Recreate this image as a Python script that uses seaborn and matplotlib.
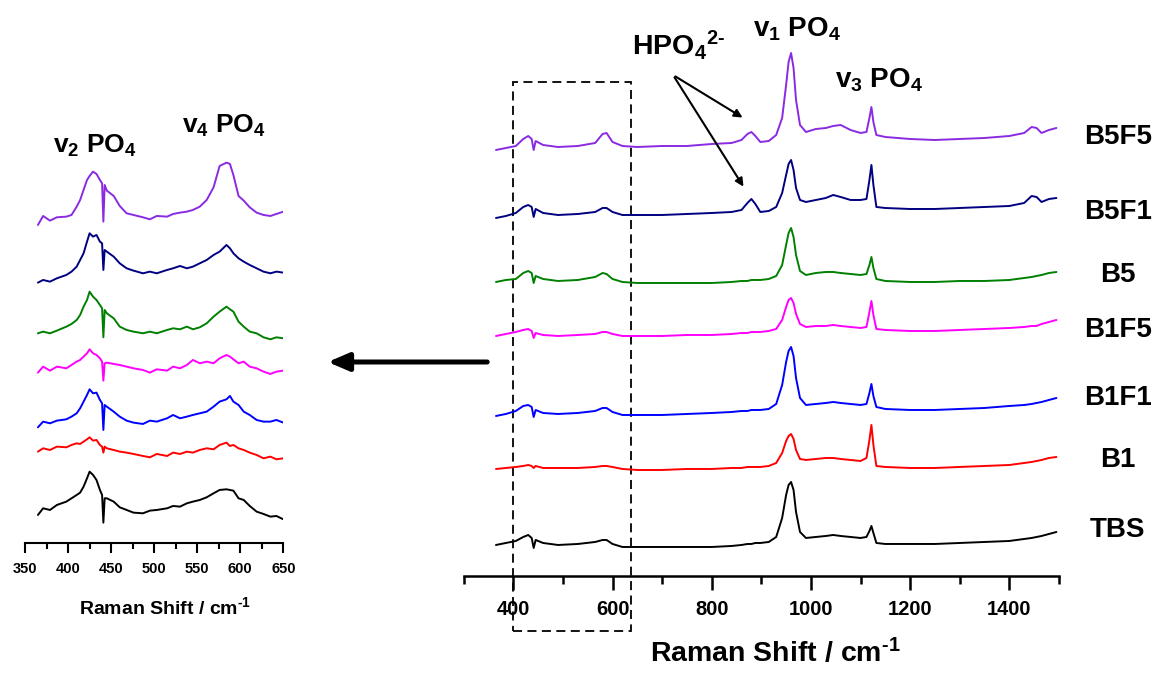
import pandas as pd
import matplotlib
matplotlib.use('Agg')
import matplotlib.pyplot as plt
from matplotlib.patches import Rectangle, FancyArrowPatch
import seaborn as sns

# Raman spectra, offset-stacked (a.u.)
samples = ['B5F5', 'B5F1', 'B5', 'B1F5', 'B1F1', 'B1', 'TBS']
colors = ['#8a2be2', '#000080', '#008000', '#ff00ff', '#0000ff', '#ff0000', '#000000']

# zoomed region 350-650 cm-1
zoom_shift = [365, 371, 379, 387, 398, 404, 410, 414, 418, 422, 425, 429, 433, 437, 439.5,
              441, 442.5, 445, 453, 460, 468, 476, 487, 495, 503, 515, 522, 530, 538, 545,
              553, 561, 569, 576, 584, 588, 592, 598, 604, 611, 619, 627, 635, 642, 650]
zoom_b5f5 = [925, 952, 938, 948, 950, 955, 980, 1000, 1030, 1060, 1072, 1085, 1078, 1060, 1050,
             935, 1045, 1028, 1012, 982, 960, 955, 948, 942, 952, 950, 958, 962, 965, 970,
             980, 1000, 1038, 1102, 1112, 1108, 1075, 1012, 998, 978, 962, 955, 952, 958, 965]
zoom_b5f1 = [752, 760, 755, 765, 775, 785, 800, 820, 840, 875, 900, 890, 895, 875, 870,
             790, 850, 845, 830, 810, 795, 788, 780, 785, 780, 790, 795, 802, 795, 800,
             810, 820, 835, 845, 865, 855, 840, 825, 815, 805, 795, 785, 780, 785, 782]
zoom_b5 = [600, 605, 600, 608, 620, 628, 640, 655, 680, 700, 725, 710, 700, 685, 675,
           588, 670, 660, 645, 620, 610, 605, 600, 605, 600, 610, 615, 612, 620, 612,
           618, 630, 650, 665, 680, 672, 665, 635, 620, 605, 600, 588, 582, 588, 585]
zoom_b1f5 = [482, 500, 488, 500, 495, 505, 515, 520, 530, 540, 552, 540, 535, 525, 515,
             458, 510, 512, 508, 505, 500, 495, 490, 482, 492, 488, 500, 495, 505, 520,
             510, 515, 510, 525, 535, 530, 522, 510, 515, 500, 495, 485, 478, 485, 488]
zoom_b1f1 = [318, 335, 330, 338, 342, 350, 360, 375, 395, 415, 432, 420, 422, 400, 390,
             310, 385, 380, 365, 350, 338, 332, 328, 338, 335, 345, 355, 345, 350, 355,
             360, 365, 380, 395, 402, 412, 395, 385, 365, 355, 340, 335, 335, 340, 332]
zoom_b1 = [245, 255, 250, 260, 258, 265, 270, 268, 275, 282, 288, 278, 280, 265, 260,
           242, 260, 255, 250, 245, 242, 238, 232, 228, 238, 232, 242, 238, 245, 242,
           250, 255, 252, 265, 272, 262, 265, 255, 250, 242, 235, 225, 230, 222, 225]
zoom_tbs = [55, 75, 70, 85, 95, 105, 115, 122, 140, 165, 185, 175, 160, 130, 115,
            32, 105, 105, 95, 78, 70, 62, 60, 68, 70, 75, 82, 80, 90, 95,
            100, 108, 120, 130, 132, 130, 128, 105, 100, 82, 65, 58, 50, 52, 42]

# full range 300-1500 cm-1
full_shift = [365, 385, 405, 420, 430, 437, 441, 445, 460, 490, 530, 565, 580, 588, 600,
              620, 650, 700, 750, 800, 840, 860, 872, 880, 888, 898, 915, 930, 942, 950,
              955, 960, 965, 970, 978, 990, 1010, 1030, 1045, 1060, 1080, 1100, 1112, 1118, 1122,
              1126, 1132, 1150, 1200, 1250, 1300, 1350, 1400, 1430, 1445, 1455, 1465, 1480, 1495]
full_b5f5 = [450, 452, 454, 461, 464, 461, 450, 459, 455, 453, 454, 457, 466, 467, 458,
             454, 453, 454, 454, 456, 457, 460, 466, 468, 464, 458, 459, 465, 482, 515,
             538, 547, 532, 500, 475, 468, 471, 472, 474, 475, 470, 467, 468, 482, 493,
             478, 465, 463, 461, 460, 461, 462, 464, 467, 473, 472, 467, 470, 472]
full_b5f1 = [382, 384, 387, 393, 395, 393, 383, 391, 387, 385, 386, 388, 392, 392, 388,
             385, 385, 385, 386, 387, 388, 390, 397, 401, 396, 388, 389, 393, 407, 425,
             436, 440, 430, 412, 400, 398, 400, 402, 405, 403, 400, 400, 401, 420, 435,
             415, 393, 392, 391, 391, 392, 393, 394, 397, 404, 403, 398, 401, 402]
full_b5 = [318, 320, 321, 327, 329, 327, 317, 324, 321, 319, 320, 323, 327, 326, 321,
           318, 317, 317, 317, 317, 318, 319, 319, 320, 320, 320, 321, 324, 335, 355,
           367, 372, 363, 345, 329, 325, 327, 328, 328, 327, 326, 325, 326, 335, 343,
           332, 321, 319, 318, 318, 319, 319, 320, 322, 323, 324, 325, 327, 328]
full_b1f5 = [264, 266, 268, 270, 271, 269, 262, 267, 265, 264, 265, 266, 268, 268, 266,
             264, 264, 264, 265, 265, 266, 267, 267, 268, 268, 268, 269, 271, 280, 293,
             300, 302, 297, 286, 276, 273, 274, 274, 275, 274, 273, 272, 273, 288, 299,
             285, 271, 270, 269, 269, 270, 271, 272, 273, 274, 274, 276, 278, 280]
full_b1f1 = [184, 186, 189, 194, 195, 193, 183, 190, 187, 186, 187, 189, 192, 192, 188,
             185, 185, 185, 186, 187, 188, 189, 189, 190, 190, 190, 191, 196, 215, 238,
             249, 253, 244, 222, 202, 195, 196, 197, 198, 197, 196, 195, 196, 207, 216,
             204, 193, 191, 190, 190, 191, 192, 194, 195, 196, 197, 198, 200, 202]
full_b1 = [131, 132, 133, 134, 135, 134, 132, 134, 132, 132, 132, 133, 134, 134, 133,
           131, 130, 130, 131, 131, 132, 132, 133, 133, 133, 133, 134, 137, 147, 159,
           164, 166, 161, 150, 141, 140, 141, 142, 142, 141, 140, 139, 142, 160, 175,
           155, 134, 133, 132, 132, 133, 134, 135, 137, 138, 139, 140, 142, 143]
full_tbs = [55, 57, 59, 63, 65, 62, 52, 60, 57, 55, 56, 58, 60, 60, 56,
            53, 53, 53, 53, 53, 54, 55, 56, 56, 57, 57, 58, 63, 82, 105,
            115, 118, 110, 88, 68, 62, 63, 64, 65, 64, 63, 62, 63, 69, 74,
            67, 57, 56, 56, 56, 57, 58, 59, 61, 62, 63, 64, 66, 68]

zoom_sets = [zoom_b5f5, zoom_b5f1, zoom_b5, zoom_b1f5, zoom_b1f1, zoom_b1, zoom_tbs]
full_sets = [full_b5f5, full_b5f1, full_b5, full_b1f5, full_b1f1, full_b1, full_tbs]

df_zoom = pd.concat([pd.DataFrame({'shift': zoom_shift, 'intensity': v, 'sample': s})
                     for s, v in zip(samples, zoom_sets)])
df_full = pd.concat([pd.DataFrame({'shift': full_shift, 'intensity': v, 'sample': s})
                     for s, v in zip(samples, full_sets)])

sns.set_style('ticks')
plt.rcParams['font.family'] = ['Liberation Sans', 'DejaVu Sans']
plt.rcParams['font.weight'] = 'bold'
plt.rcParams['text.color'] = 'black'
plt.rcParams['axes.labelcolor'] = 'black'
plt.rcParams['xtick.color'] = 'black'
plt.rcParams['axes.edgecolor'] = 'black'
plt.rcParams['mathtext.fontset'] = 'custom'
plt.rcParams['mathtext.rm'] = 'Liberation Sans:bold'
plt.rcParams['mathtext.it'] = 'Liberation Sans:bold'
plt.rcParams['mathtext.bf'] = 'Liberation Sans:bold'

palette = dict(zip(samples, colors))
fig = plt.figure(figsize=(11.64, 6.75), dpi=100)
ax_l = fig.add_axes([0.0215, 0.1956, 0.2219, 0.6563])
ax_r = fig.add_axes([0.3984, 0.1467, 0.5113, 0.8533])

sns.lineplot(data=df_zoom, x='shift', y='intensity', hue='sample', palette=palette,
             estimator=None, sort=False, lw=1.4, legend=False, ax=ax_l)
sns.lineplot(data=df_full, x='shift', y='intensity', hue='sample', palette=palette,
             estimator=None, sort=False, lw=1.4, legend=False, ax=ax_r)

for ax in (ax_l, ax_r):
    for side in ('left', 'right', 'top'):
        ax.spines[side].set_visible(False)
    ax.set_yticks([])
    ax.set_ylabel('')

xlabel = 'Raman Shift / cm$^{\\text{-}1}$'

# left panel (zoom)
ax_l.set_xlim(350, 650)
ax_l.set_ylim(-29, 1300)
ax_l.set_xticks(range(350, 651, 50))
ax_l.set_xticks(range(375, 650, 50), minor=True)
ax_l.spines['bottom'].set_linewidth(1.5)
ax_l.tick_params(axis='x', which='major', length=7, width=1.5, pad=7, labelsize=10.5)
ax_l.tick_params(axis='x', which='minor', length=4, width=1.5)
ax_l.set_xlabel(xlabel, fontsize=14, fontweight='bold', labelpad=14, x=0.543)
ax_l.text(382, 1141, 'v$_2$ PO$_4$', fontsize=19, fontweight='bold')
ax_l.text(532, 1201, 'v$_4$ PO$_4$', fontsize=19, fontweight='bold')

# right panel (full spectrum)
ax_r.set_xlim(300, 1500)
ax_r.set_ylim(24, 600)
ax_r.set_xticks(range(400, 1401, 200))
ax_r.set_xticks(range(300, 1501, 200), minor=True)
ax_r.spines['bottom'].set_linewidth(1.8)
ax_r.tick_params(axis='x', which='major', length=10, width=1.8, pad=7, labelsize=14.5)
ax_r.tick_params(axis='x', which='minor', length=6, width=1.8)
ax_r.set_xlabel(xlabel, fontsize=20.5, fontweight='bold', labelpad=14, x=0.524)

label_y = [463, 388, 325, 270, 202, 140, 70]
for name, yy in zip(samples, label_y):
    ax_r.text(1619, yy, name, fontsize=20, fontweight='bold', ha='center', va='center',
              clip_on=False)

ax_r.text(883, 563, 'v$_1$ PO$_4$', fontsize=20, fontweight='bold')
ax_r.text(1049, 512, 'v$_3$ PO$_4$', fontsize=20, fontweight='bold')
ax_r.text(639, 545, 'HPO$_4{}^{2\\text{-}}$', fontsize=20.5, fontweight='bold')
for head in ([867, 481], [867, 411]):
    ax_r.annotate('', xy=head, xytext=(722, 525),
                  arrowprops=dict(arrowstyle='-|>', lw=1.5, color='black', mutation_scale=12))

# dashed box marking the zoomed window
ax_r.add_patch(Rectangle((400, -31), 238, 549, fill=False, lw=1.3, ls=(0, (5, 3)),
                         edgecolor='black', clip_on=False))

# arrow pointing to the zoomed panel
fig.add_artist(FancyArrowPatch(
    (490 / 1164, 1 - 362 / 675), (325 / 1164, 1 - 362 / 675), transform=fig.transFigure,
    arrowstyle='-|>,head_length=0.7,head_width=0.3', mutation_scale=18, lw=3.6, color='black'))

fig.savefig('out.png', dpi=100)
